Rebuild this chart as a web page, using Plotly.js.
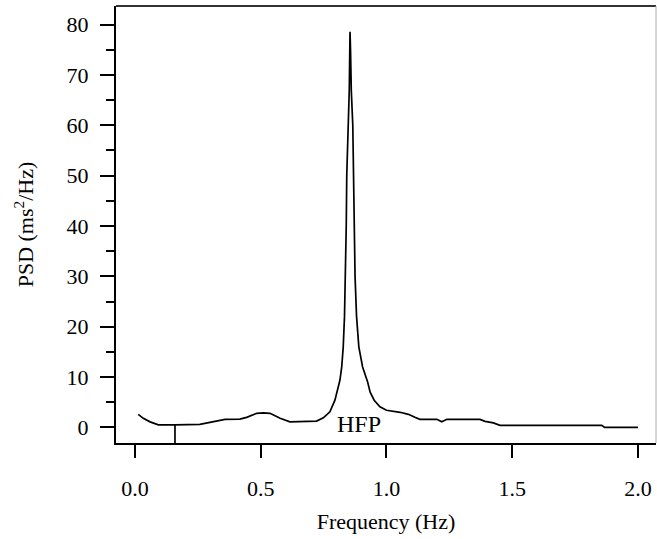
<!DOCTYPE html>
<html>
<head>
<meta charset="utf-8">
<script src="https://cdn.plot.ly/plotly-3.0.1.min.js"></script>
<style>html,body{margin:0;padding:0;background:#fff;}#chart{width:657px;height:539px;}</style>
</head>
<body>
<div id="chart"></div>
<script>
// Frequency (Hz) and PSD (ms^2/Hz)
const freq = [0.013,0.033,0.060,0.093,0.159,0.258,0.298,0.358,0.417,0.444,0.484,0.510,0.537,0.577,0.616,0.722,0.749,0.775,0.795,0.808,0.815,0.822,0.828,0.833,0.837,0.840,0.842,0.845,0.850,0.852,0.854,0.855,0.857,0.860,0.866,0.868,0.871,0.875,0.881,0.890,0.905,0.925,0.935,0.951,0.974,1.000,1.054,1.087,1.113,1.133,1.200,1.220,1.240,1.372,1.392,1.425,1.451,1.856,1.867,2.000];
const psd  = [2.6,1.8,1.1,0.5,0.5,0.6,1.0,1.6,1.65,2.0,2.8,2.9,2.8,1.8,1.1,1.25,1.9,3.1,5.4,8.1,9.4,12,16,22,30,40,50,55,62,67,75,78.6,75,67,60,52,40,30,22,16,12,9.0,7.0,5.4,4.1,3.4,3.0,2.6,2.0,1.6,1.6,1.1,1.6,1.6,1.2,0.9,0.4,0.4,0.0,0.0];
// LF/HF boundary marker
const boundaryFreq = 0.159;
const boundaryPsd = 0.5;
// Band label
const bandLabel = "HFP";
const bandLabelFreq = 0.891;
const bandLabelPsd = 0.66;
// Axis ticks
const xTicks = [0, 0.5, 1.0, 1.5, 2.0];
const xTickText = ["0.0", "0.5", "1.0", "1.5", "2.0"];
const xRange = [-0.0755, 2.0716];
const yRange = [-3.1, 83.7];

const font = {family: '"Liberation Serif", "Times New Roman", serif', size: 22, color: '#000'};
const labelFont = {family: '"Liberation Serif", "Times New Roman", serif', size: 24, color: '#000'};

const traces = [
  {x: freq, y: psd, type: 'scatter', mode: 'lines', line: {color: '#000', width: 1.7}, hoverinfo: 'skip'},
  {x: [boundaryFreq, boundaryFreq], y: [yRange[0], boundaryPsd], type: 'scatter', mode: 'lines', line: {color: '#000', width: 1.7}, hoverinfo: 'skip'}
];

const layout = {
  width: 657, height: 539,
  margin: {l: 116, r: 1, t: 6, b: 96},
  paper_bgcolor: '#fff', plot_bgcolor: '#fff',
  showlegend: false,
  font: font,
  xaxis: {
    range: xRange, tickvals: xTicks, ticktext: xTickText,
    ticks: 'outside', ticklen: 13, tickwidth: 2, tickcolor: '#000',
    showline: true, linecolor: '#000', linewidth: 2,
    showgrid: false, zeroline: false, ticklabelstandoff: 12,
    tickfont: font,
    title: {text: 'Frequency (Hz)', font: font, standoff: 13}
  },
  yaxis: {
    range: yRange, dtick: 10, tick0: 0,
    ticks: 'outside', ticklen: 14, tickwidth: 2, tickcolor: '#000',
    minor: {dtick: 5, tick0: 0, ticks: 'outside', ticklen: 8, tickwidth: 2, tickcolor: '#000', showgrid: false},
    showline: true, linecolor: '#000', linewidth: 2,
    showgrid: false, zeroline: false, ticklabelstandoff: 7,
    tickfont: font,
    title: {text: 'PSD (ms<sup>2</sup>/Hz)', font: font, standoff: 27}
  },
  shapes: [
    {type: 'line', xref: 'paper', yref: 'paper', x0: 0, x1: 1, y0: 1, y1: 1, line: {color: '#333', width: 2}},
    {type: 'line', xref: 'paper', yref: 'paper', x0: 1, x1: 1, y0: 0, y1: 1, line: {color: '#aaa', width: 1}}
  ],
  annotations: [
    {x: bandLabelFreq, y: bandLabelPsd, xref: 'x', yref: 'y', text: bandLabel, showarrow: false, font: labelFont}
  ]
};

Plotly.newPlot('chart', traces, layout, {displayModeBar: false, staticPlot: true});
</script>
</body>
</html>
